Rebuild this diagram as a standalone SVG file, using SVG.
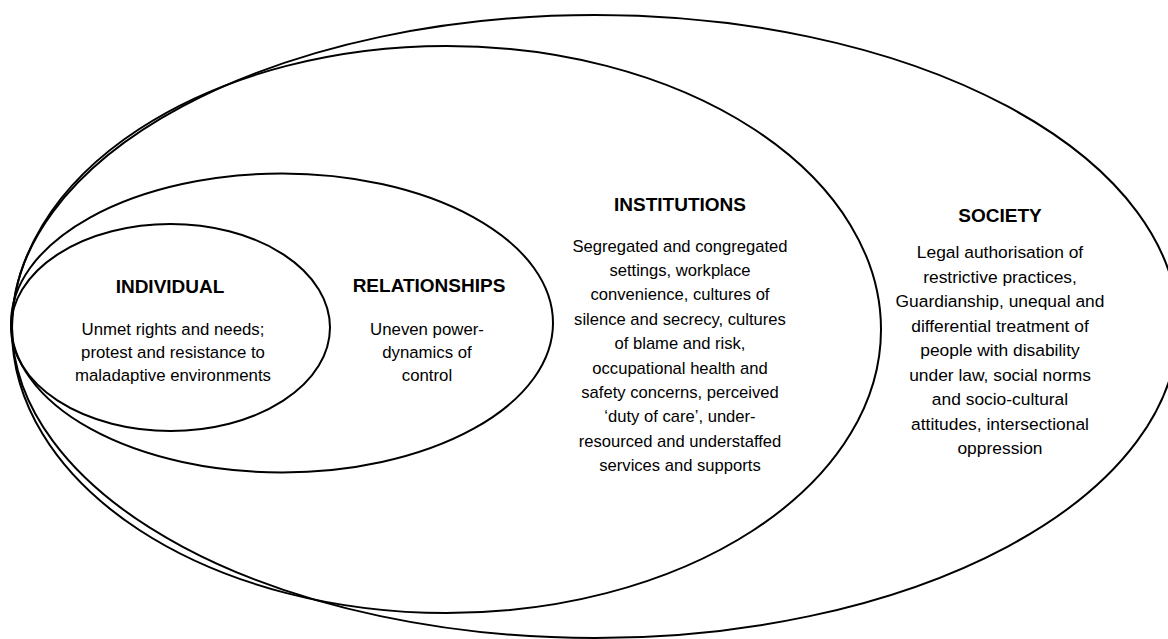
<svg xmlns="http://www.w3.org/2000/svg" width="1168" height="639" viewBox="0 0 1168 639">
<style>
.ring{fill:none;stroke:#000;stroke-width:2}
.h{font-family:"Liberation Sans",Arial,sans-serif;font-weight:bold;font-size:19px;fill:#000;text-anchor:middle}
.b{font-family:"Liberation Sans",Arial,sans-serif;font-size:16.8px;fill:#000;text-anchor:middle}
.bs{font-size:17.4px}
.bi{font-size:16.6px}
</style>
<rect width="1168" height="639" fill="#fff"/>
<g id="society">
<ellipse class="ring" cx="595" cy="326.5" rx="583" ry="311.5"/>
<text class="h" x="1000" y="221.5">SOCIETY</text>
<text class="b bs" x="1000" y="258">Legal authorisation of</text>
<text class="b bs" x="1000" y="282.5">restrictive practices,</text>
<text class="b bs" x="1000" y="307">Guardianship, unequal and</text>
<text class="b bs" x="1000" y="331.5">differential treatment of</text>
<text class="b bs" x="1000" y="356">people with disability</text>
<text class="b bs" x="1000" y="380.5">under law, social norms</text>
<text class="b bs" x="1000" y="405">and socio-cultural</text>
<text class="b bs" x="1000" y="429.5">attitudes, intersectional</text>
<text class="b bs" x="1000" y="454">oppression</text>
</g>
<g id="institutions">
<ellipse class="ring" cx="446.5" cy="329.5" rx="434.5" ry="283.5"/>
<text class="h" x="680" y="211">INSTITUTIONS</text>
<text class="b bi" x="680" y="251.5">Segregated and congregated</text>
<text class="b bi" x="680" y="275.9">settings, workplace</text>
<text class="b bi" x="680" y="300.3">convenience, cultures of</text>
<text class="b bi" x="680" y="324.7">silence and secrecy, cultures</text>
<text class="b bi" x="680" y="349.1">of blame and risk,</text>
<text class="b bi" x="680" y="373.5">occupational health and</text>
<text class="b bi" x="680" y="397.9">safety concerns, perceived</text>
<text class="b bi" x="680" y="422.3">‘duty of care’, under-</text>
<text class="b bi" x="680" y="446.7">resourced and understaffed</text>
<text class="b bi" x="680" y="471.1">services and supports</text>
</g>
<g id="relationships">
<ellipse class="ring" cx="282" cy="323" rx="271" ry="149.5"/>
<text class="h" x="429" y="292">RELATIONSHIPS</text>
<text class="b" x="427" y="334.5">Uneven power-</text>
<text class="b" x="427" y="357.5">dynamics of</text>
<text class="b" x="427" y="380.5">control</text>
</g>
<g id="individual">
<ellipse class="ring" cx="170.5" cy="327.5" rx="159.5" ry="103.5"/>
<text class="h" x="170" y="292.5">INDIVIDUAL</text>
<text class="b" x="173" y="334.5">Unmet rights and needs;</text>
<text class="b" x="173" y="357.5">protest and resistance to</text>
<text class="b" x="173" y="380.5">maladaptive environments</text>
</g>
</svg>
